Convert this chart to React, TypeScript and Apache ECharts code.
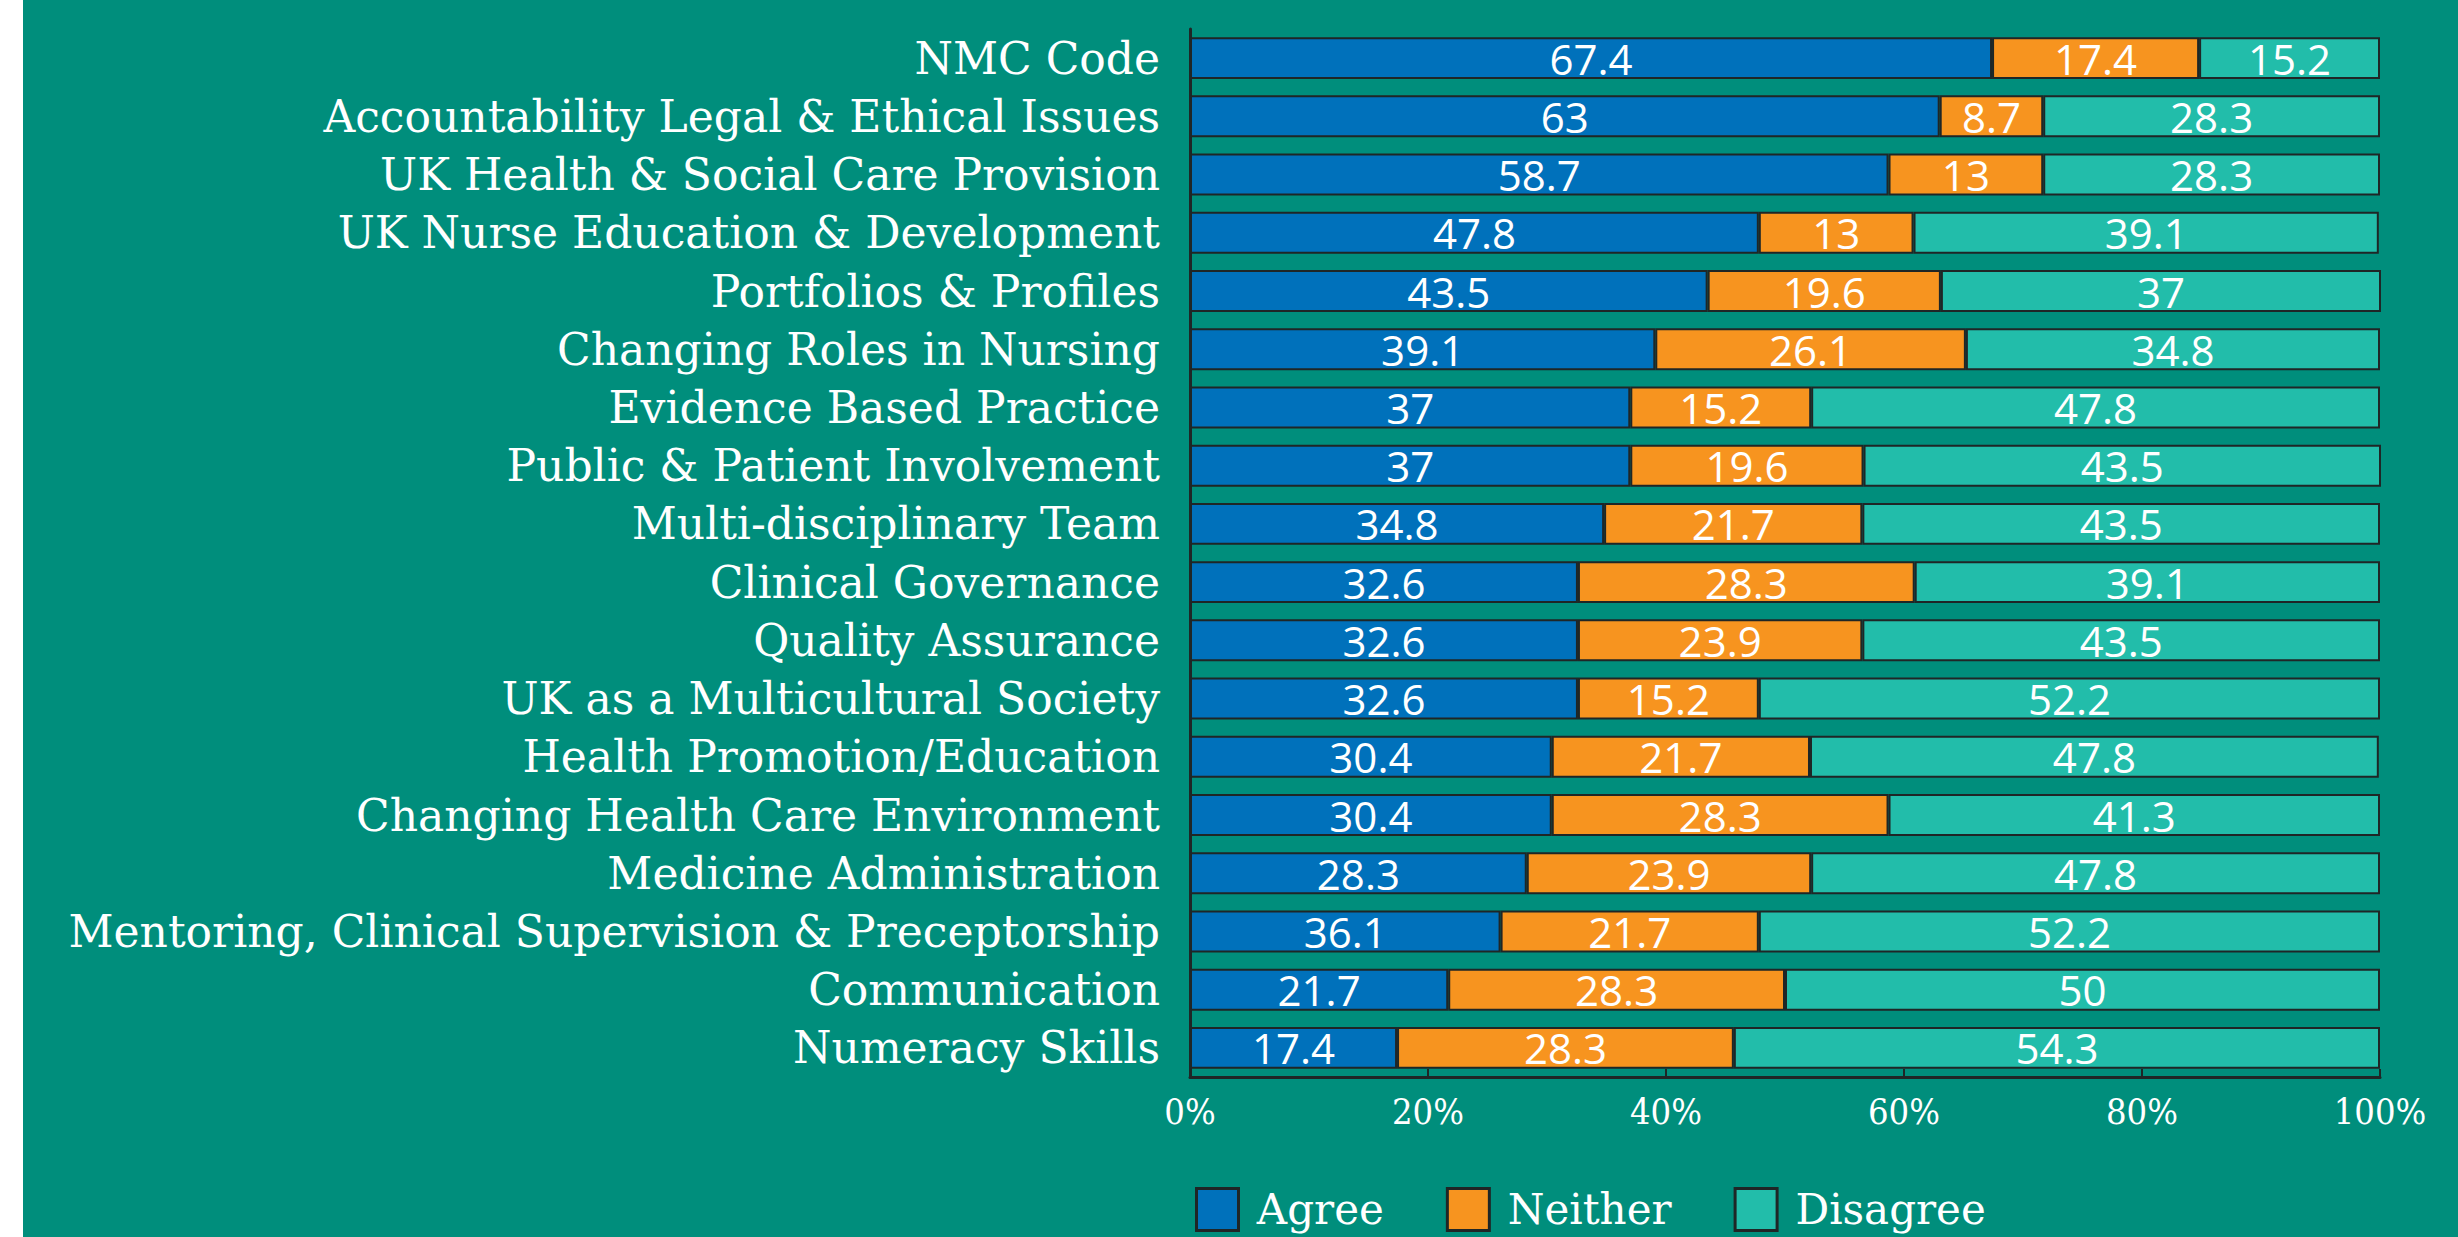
import React, { useEffect, useRef } from "react";
import * as echarts from "echarts";

const categories = [
  "NMC Code",
  "Accountability Legal & Ethical Issues",
  "UK Health & Social Care Provision",
  "UK Nurse Education & Development",
  "Portfolios & Profiles",
  "Changing Roles in Nursing",
  "Evidence Based Practice",
  "Public & Patient Involvement",
  "Multi-disciplinary Team",
  "Clinical Governance",
  "Quality Assurance",
  "UK as a Multicultural Society",
  "Health Promotion/Education",
  "Changing Health Care Environment",
  "Medicine Administration",
  "Mentoring, Clinical Supervision & Preceptorship",
  "Communication",
  "Numeracy Skills",
];

const agree = [67.4, 63, 58.7, 47.8, 43.5, 39.1, 37, 37, 34.8, 32.6, 32.6, 32.6, 30.4, 30.4, 28.3, 26.1, 21.7, 17.4];
// Labels as printed on the original chart (the Mentoring row prints 36.1 on a 26.1 bar)
const agreePrinted = ["67.4", "63", "58.7", "47.8", "43.5", "39.1", "37", "37", "34.8", "32.6", "32.6", "32.6", "30.4", "30.4", "28.3", "36.1", "21.7", "17.4"];
const neither = [17.4, 8.7, 13, 13, 19.6, 26.1, 15.2, 19.6, 21.7, 28.3, 23.9, 15.2, 21.7, 28.3, 23.9, 21.7, 28.3, 28.3];
const disagree = [15.2, 28.3, 28.3, 39.1, 37, 34.8, 47.8, 43.5, 43.5, 39.1, 43.5, 52.2, 47.8, 41.3, 47.8, 52.2, 50, 54.3];

const seriesNames = ["Agree", "Neither", "Disagree"];
const xTicks = [0, 20, 40, 60, 80, 100];

const COLORS = ["#0071BB", "#F7941F", "#22BDAA"];
const BG = "#008E7C";
const DARK = "#1F2626";
const SERIF = "'DejaVu Serif', serif";
const SERIF_COND = "'DejaVu Serif Condensed', 'DejaVu Serif', serif";
const SANS = "'Open Sans', 'Noto Sans', sans-serif";

export default function App() {
  const ref = useRef<HTMLDivElement>(null);

  useEffect(() => {
    document.body.style.margin = "0";
    if (!ref.current) return;
    const chart = echarts.init(ref.current, null, { renderer: "svg" });

    const mk = (idx: number, data: number[], printed?: string[]) => ({
      name: seriesNames[idx],
      type: "bar",
      stack: "total",
      barCategoryGap: "28%",
      data,
      itemStyle: { color: COLORS[idx], borderColor: DARK, borderWidth: 2 },
      label: {
        show: true,
        position: "inside",
        color: "#FFFFFF",
        fontFamily: SANS,
        fontSize: 42,
        formatter: (p: any) => (printed ? printed[p.dataIndex] : String(p.value)),
      },
      emphasis: { disabled: true },
    });

    chart.setOption({
      animation: false,
      backgroundColor: "transparent",
      grid: { left: 1190, right: 78, top: 29, bottom: 160, containLabel: false },
      xAxis: {
        type: "value",
        min: xTicks[0],
        max: xTicks[xTicks.length - 1],
        interval: xTicks[1] - xTicks[0],
        axisLine: { show: true, lineStyle: { color: DARK, width: 3 } },
        axisTick: { show: true, inside: true, length: 8, lineStyle: { color: DARK, width: 2 } },
        splitLine: { show: false },
        axisLabel: {
          color: "#FFFFFF",
          fontFamily: SERIF_COND,
          fontSize: 36,
          margin: 16,
          formatter: "{value}%",
        },
      },
      yAxis: {
        type: "category",
        inverse: true,
        data: categories,
        axisLine: { show: true, lineStyle: { color: DARK, width: 3 } },
        axisTick: { show: false },
        axisLabel: {
          color: "#FFFFFF",
          fontFamily: SERIF,
          fontSize: 44,
          margin: 30,
        },
      },
      legend: {
        data: seriesNames,
        left: 1190,
        top: 1182,
        orient: "horizontal",
        icon: "rect",
        itemWidth: 42,
        itemHeight: 42,
        itemGap: 62,
        itemStyle: { borderColor: DARK, borderWidth: 3 },
        formatter: " {name}",
        textStyle: { color: "#FFFFFF", fontFamily: SERIF, fontSize: 42, lineHeight: 44 },
      },
      series: [mk(0, agree, agreePrinted), mk(1, neither), mk(2, disagree)],
    });

    return () => chart.dispose();
  }, []);

  return (
    <div
      style={{
        position: "absolute",
        left: 0,
        top: 0,
        width: 2458,
        height: 1237,
        background: `linear-gradient(to right, #FFFFFF 23px, ${BG} 23px)`,
      }}
    >
      <div ref={ref} style={{ width: 2458, height: 1237 }} />
    </div>
  );
}
